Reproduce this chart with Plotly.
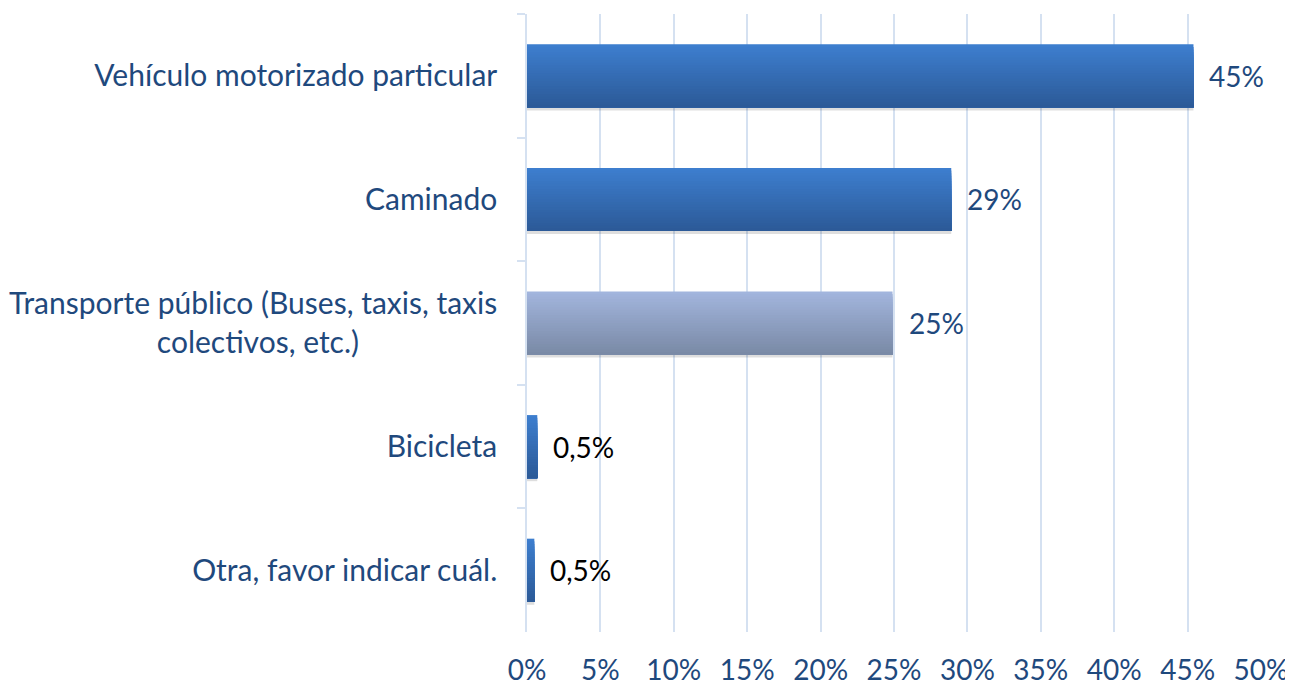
import plotly.graph_objects as go

NB = "\u00a0"
categories = [
    "Vehículo motorizado particular",
    "Caminado",
    "Transporte público (Buses, taxis, taxis<br>colectivos, etc.)" + NB * 18,
    "Bicicleta",
    "Otra, favor indicar cuál.",
]
values = [45.4, 28.9, 24.9, 0.7, 0.5]
value_labels = ["45%", "29%", "25%", "0,5%", "0,5%"]
label_colors = ["#1f497d", "#1f497d", "#1f497d", "#000000", "#000000"]
tick_vals = [0, 5, 10, 15, 20, 25, 30, 35, 40, 45, 50]
tick_text = ["0%", "5%", "10%", "15%", "20%", "25%", "30%", "35%", "40%", "45%", "50%"]

# gradient endpoints (top, bottom) per bar
top_colors = [(61, 126, 206), (61, 126, 206), (162, 181, 221), (61, 126, 206), (61, 126, 206)]
bot_colors = [(44, 90, 152), (44, 90, 152), (122, 138, 166), (44, 90, 152), (44, 90, 152)]

FONT = "Lato"
FS = 28
FS_CAT = 30
BAR_W = 0.51
N = 24

fig = go.Figure()

# soft shadow
fig.add_trace(go.Bar(
    x=values, y=categories, orientation="h", width=BAR_W, offset=-BAR_W / 2 + 0.025,
    marker=dict(color="rgba(0,0,0,0.13)", line=dict(width=0)), hoverinfo="skip", showlegend=False,
))

for i in range(N):
    t = i / (N - 1)
    cols = []
    for a, b in zip(top_colors, bot_colors):
        c = tuple(round(a[k] + (b[k] - a[k]) * t) for k in range(3))
        cols.append("rgb(%d,%d,%d)" % c)
    start = -BAR_W / 2 + i * BAR_W / N
    fig.add_trace(go.Bar(
        x=values, y=categories, orientation="h",
        width=BAR_W / 2 - start, offset=start,
        marker=dict(color=cols, line=dict(width=0)),
        hoverinfo="skip", showlegend=False,
    ))

for cat, v, lab, col in zip(categories, values, value_labels, label_colors):
    fig.add_annotation(x=v, y=cat, text=lab, showarrow=False, xanchor="left",
                       xshift=14, font=dict(family=FONT, size=FS, color=col))

fig.update_layout(
    width=1285, height=677,
    barmode="overlay",
    plot_bgcolor="white", paper_bgcolor="white",
    margin=dict(l=519, r=32, t=6, b=53),
    font=dict(family=FONT, size=FS, color="#1f497d"),
    xaxis=dict(range=[0, 50], tickvals=tick_vals, ticktext=tick_text, automargin=False,
               showgrid=True, gridcolor="#d5e1f1", gridwidth=1.5,
               zeroline=False, showline=False, ticks="", ticklabelstandoff=19,
               tickfont=dict(family=FONT, size=FS, color="#1f497d")),
    yaxis=dict(categoryorder="array", categoryarray=categories, autorange="reversed",
               automargin=False,
               showline=True, linecolor="#d5e1f1", linewidth=1.5,
               ticks="outside", tickson="boundaries", ticklen=8, tickcolor="#d5e1f1",
               tickwidth=1.5, showgrid=False, ticklabelstandoff=22,
               tickfont=dict(family=FONT, size=FS_CAT, color="#1f497d")),
)

fig.write_html("out.html")
